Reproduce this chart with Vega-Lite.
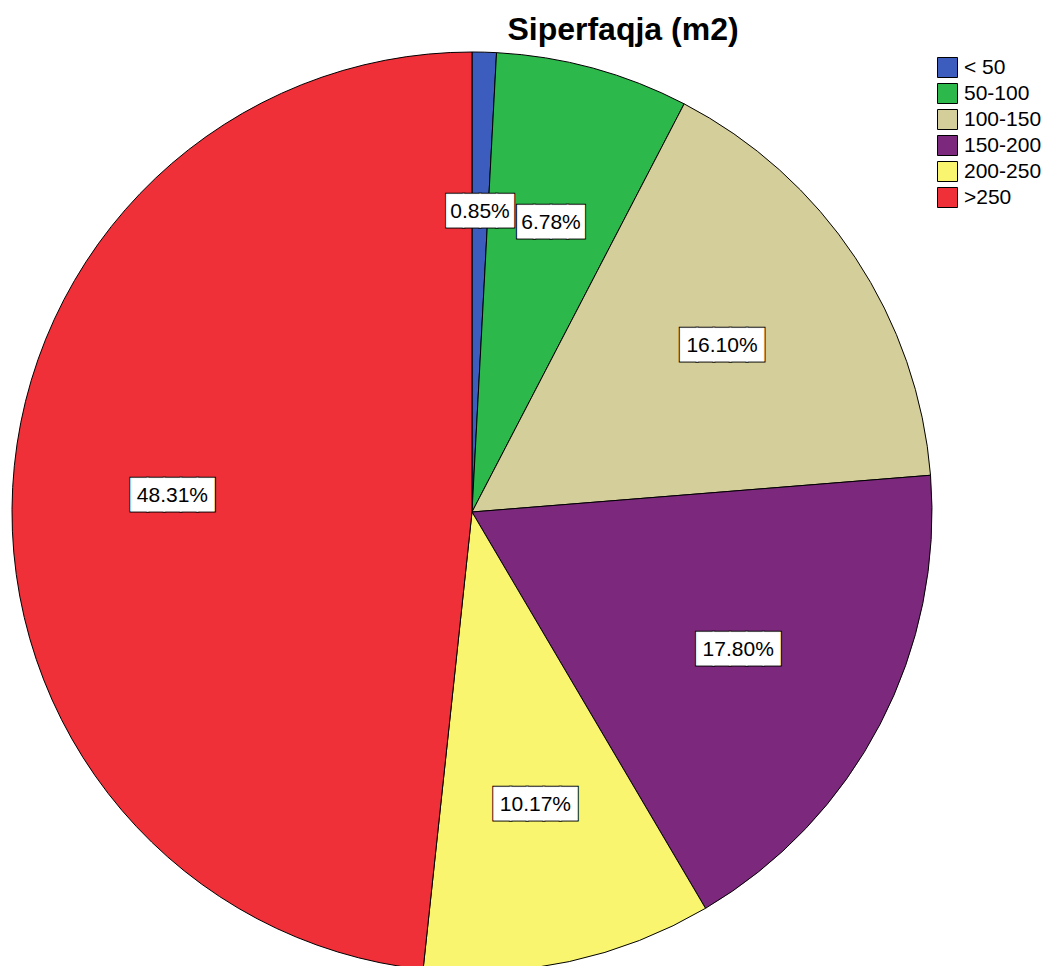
{
  "$schema": "https://vega.github.io/schema/vega-lite/v6.json",
  "width": 920,
  "height": 920,
  "padding": {"left": 10, "top": 14, "right": 0, "bottom": 0},
  "background": "white",
  "title": {"text": "Siperfaqja (m2)", "font": "Liberation Sans", "fontSize": 32, "fontWeight": "bold", "color": "black", "dx": 151, "offset": 3},
  "config": {"view": {"stroke": null}},
  "data": {"values": [
    {"cat": "< 50", "pct": 0.85, "order": 1, "label": "0.85%"},
    {"cat": "50-100", "pct": 6.78, "order": 2, "label": "6.78%"},
    {"cat": "100-150", "pct": 16.10, "order": 3, "label": "16.10%"},
    {"cat": "150-200", "pct": 17.80, "order": 4, "label": "17.80%"},
    {"cat": "200-250", "pct": 10.17, "order": 5, "label": "10.17%"},
    {"cat": ">250", "pct": 48.31, "order": 6, "label": "48.31%"}
  ]},
  "encoding": {
    "theta": {"field": "pct", "type": "quantitative", "stack": true},
    "order": {"field": "order", "type": "quantitative"}
  },
  "layer": [
    {
      "mark": {"type": "arc", "stroke": "black", "strokeWidth": 1},
      "encoding": {
        "color": {
          "field": "cat", "type": "nominal",
          "scale": {"domain": ["< 50", "50-100", "100-150", "150-200", "200-250", ">250"],
                    "range": ["#3c5dbd", "#2db84b", "#d4ce9b", "#7c287c", "#f9f56f", "#ef3039"]},
          "legend": {"title": null, "orient": "none", "legendX": 925, "legendY": 5, "padding": 0,
                     "labelFont": "Liberation Sans", "labelFontSize": 21, "labelColor": "black",
                     "symbolType": "square", "symbolSize": 400, "symbolStrokeColor": "black", "symbolStrokeWidth": 1,
                     "rowPadding": 1, "labelOffset": 6}
        }
      }
    },
    {
      "mark": {"type": "text", "radius": 300, "font": "DejaVu Sans Mono", "fontSize": 27.6,
               "fill": "black", "stroke": "black", "strokeWidth": 3, "baseline": "middle", "align": "center"},
      "encoding": {"text": {"condition": {"test": "datum.pct < 10", "value": "████"}, "value": "█████"}}
    },
    {
      "mark": {"type": "text", "radius": 300, "font": "DejaVu Sans Mono", "fontSize": 27.6,
               "fill": "white", "stroke": "white", "strokeWidth": 1, "baseline": "middle", "align": "center"},
      "encoding": {"text": {"condition": {"test": "datum.pct < 10", "value": "████"}, "value": "█████"}}
    },
    {
      "mark": {"type": "text", "radius": 300, "font": "Liberation Sans", "fontSize": 21, "color": "black", "baseline": "middle", "align": "center"},
      "encoding": {"text": {"field": "label", "type": "nominal"}}
    }
  ]
}
